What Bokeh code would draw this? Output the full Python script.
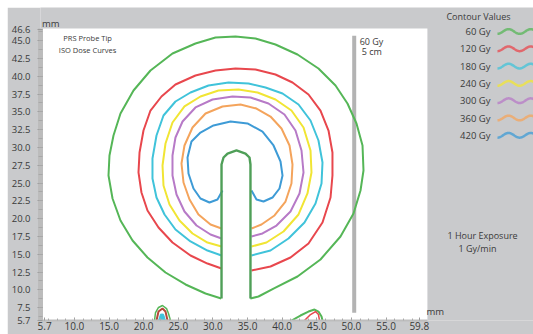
import numpy as np
from bokeh.plotting import figure
from bokeh.models import Range1d, FixedTicker, Label, NumeralTickFormatter
from bokeh.embed import file_html
from bokeh.resources import INLINE

# ---------------- data (mm) ----------------
dose_labels = ["60 Gy", "120 Gy", "180 Gy", "240 Gy", "300 Gy", "360 Gy", "420 Gy"]
dose_colors = ["#55b657", "#e8474d", "#40c3da", "#f1e534", "#b77ac7", "#f4a45c", "#3e9bd6"]

x_ticks = [5.7, 10.0, 15.0, 20.0, 25.0, 30.0, 35.0, 40.0, 45.0, 50.0, 55.0, 59.8]
y_ticks = [5.7, 7.5, 10.0, 12.5, 15.0, 17.5, 20.0, 22.5, 25.0, 27.5, 30.0,
           32.5, 35.0, 37.5, 40.0, 42.5, 45.0, 46.6]

# 60 Gy outer contour (meets the probe at its base)
c60_x = [31.2, 28.93, 26.04, 23.15, 20.55, 18.39, 16.65, 15.50, 14.92, 15.06, 15.64, 16.65,
         18.53, 20.98, 24.16, 27.48, 30.37, 33.26, 36.15, 39.03, 42.21, 45.24, 47.70, 49.43,
         50.73, 51.60, 51.74, 51.31, 50.30, 48.42, 45.53, 42.21, 38.75, 36.58, 35.4]
c60_y = [8.79, 9.49, 10.76, 12.44, 14.55, 16.94, 19.74, 22.83, 26.06, 28.87, 31.68, 34.77,
         38.00, 40.81, 43.20, 44.60, 45.45, 45.59, 45.31, 44.46, 43.06, 41.09, 38.71, 36.18,
         33.37, 30.28, 26.77, 23.96, 20.73, 17.50, 14.27, 11.88, 10.19, 9.07, 8.79]

c120_x = [31.24, 29.21, 26.76, 24.16, 22.14, 20.55, 19.68, 19.25, 19.40, 19.97, 20.98, 22.57,
          24.59, 27.48, 30.37, 33.26, 36.15, 39.03, 41.49, 43.80, 45.53, 46.69, 47.26, 47.26,
          46.98, 45.82, 43.80, 41.20, 38.31, 35.57]
c120_y = [13.00, 13.70, 14.83, 16.65, 18.76, 21.15, 23.68, 26.49, 29.29, 32.38, 35.19, 37.16,
          38.85, 40.11, 40.81, 41.09, 40.95, 40.25, 39.13, 37.44, 35.19, 32.38, 29.29, 26.06,
          22.97, 19.46, 16.51, 14.55, 13.28, 12.72]

c180_x = [31.24, 29.21, 26.76, 24.59, 23.01, 21.85, 21.27, 21.27, 21.85, 22.86, 24.59, 26.76,
          29.36, 32.25, 35.14, 37.59, 40.05, 42.36, 44.09, 45.24, 45.82, 45.68, 44.81, 43.22,
          40.91, 38.31, 35.57]
c180_y = [14.83, 15.53, 16.80, 18.48, 20.59, 22.97, 25.64, 28.45, 31.68, 34.49, 36.46, 37.72,
          38.71, 39.13, 38.99, 38.42, 37.58, 36.04, 33.79, 30.98, 27.89, 24.94, 22.13, 19.46,
          17.22, 15.53, 14.83]

c240_x = [31.24, 29.21, 27.05, 25.17, 23.73, 22.86, 22.72, 23.15, 24.16, 25.89, 28.20, 30.80,
          33.69, 36.44, 39.03, 41.34, 43.08, 44.09, 44.23, 43.65, 42.36, 40.19, 37.73, 35.57]
c240_y = [16.09, 16.65, 17.92, 19.74, 21.99, 24.66, 27.47, 30.56, 33.51, 35.76, 37.16, 38.00,
          38.14, 37.72, 36.74, 35.19, 32.81, 29.58, 26.49, 23.54, 20.59, 18.20, 16.65, 16.09]

c300_x = [31.24, 29.65, 27.63, 25.89, 24.74, 24.16, 24.16, 24.59, 25.61, 27.48, 29.94, 32.83,
          35.42, 38.02, 40.33, 41.92, 42.79, 43.08, 42.50, 41.20, 39.18, 37.16, 35.57]
c300_y = [17.22, 17.78, 19.04, 21.01, 23.40, 26.06, 28.87, 31.40, 33.65, 35.62, 36.74, 37.16,
          37.02, 36.18, 34.63, 32.38, 29.58, 26.49, 23.54, 21.01, 19.04, 17.92, 17.50]

c360_x = [31.24, 29.65, 27.91, 26.62, 25.75, 25.46, 25.89, 27.05, 28.93, 31.38, 33.98, 36.29,
          38.31, 39.90, 41.06, 41.49, 41.34, 40.48, 38.89, 37.01, 35.57]
c360_y = [18.62, 19.18, 20.59, 22.69, 25.08, 27.75, 30.28, 32.81, 34.77, 35.76, 36.04, 35.47,
          34.35, 32.67, 30.28, 27.61, 24.94, 22.41, 20.45, 19.18, 18.62]

c420_x = [31.38, 30.66, 29.50, 28.20, 27.19, 26.47, 26.33, 26.90, 28.20, 30.08, 32.54, 34.99,
          37.16, 38.75, 39.76, 40.05, 39.61, 38.60, 37.30, 36.29, 35.57]
c420_y = [23.96, 22.69, 22.27, 22.83, 24.24, 26.35, 28.59, 30.84, 32.10, 33.09, 33.65, 33.37,
          32.24, 30.28, 28.03, 26.06, 24.24, 22.97, 22.41, 22.69, 23.96]

# probe outline (shaft + rounded tip)
probe_x = [31.24, 31.24, 31.53, 32.11, 33.40, 34.70, 35.28, 35.42, 35.42]
probe_y = [8.79, 27.61, 28.59, 29.15, 29.58, 29.15, 28.59, 27.61, 8.79]

# small dose islands near the bottom edge
blobA60_x = [21.56, 21.71, 22.14, 22.72, 23.30, 23.58, 23.87]
blobA60_y = [5.70, 6.82, 7.53, 7.81, 7.38, 6.68, 5.70]
blobA120_x = [21.85, 22.14, 22.72, 23.15, 23.44]
blobA120_y = [5.70, 6.96, 7.38, 6.96, 5.70]
blobA180_x = [22.14, 22.43, 22.86, 23.15]
blobA180_y = [5.70, 6.60, 6.60, 5.70]
blobB60_x = [41.35, 42.64, 43.80, 44.67, 45.24, 45.68, 45.82]
blobB60_y = [5.70, 6.40, 6.96, 7.24, 6.96, 6.26, 5.70]
blobB120_x = [43.22, 44.09, 44.81, 45.24, 45.39]
blobB120_y = [5.70, 6.54, 6.96, 6.54, 5.70]

marker_x = 50.4          # 5 cm reference line
marker_y = [6.8, 45.7]

contours_x = [c60_x, c120_x, c180_x, c240_x, c300_x, c360_x, c420_x]
contours_y = [c60_y, c120_y, c180_y, c240_y, c300_y, c360_y, c420_y]

# ---------------- styling ----------------
BG = "#c9cacc"
TXT = "#3a3a3a"
FONT = "Open Sans"

x0, x1 = 5.1, 76.29
y0, y1 = 5.7, 49.66
panel_right, panel_top = 60.97, 46.71

p = figure(width=526, height=327, output_backend="svg", toolbar_location=None,
           x_range=Range1d(x0, x1), y_range=Range1d(y0, y1),
           min_border_left=33, min_border_right=0, min_border_top=0, min_border_bottom=14)
p.margin = (7, 0, 0, 7)
p.background_fill_color = BG
p.border_fill_color = BG
p.outline_line_color = None
p.grid.visible = False

# white plotting panel
p.quad(left=x0, right=panel_right, bottom=y0, top=panel_top, fill_color="white", line_color=None)

# 5 cm marker line
p.line([marker_x, marker_x], marker_y, line_color="#b3b3b3", line_width=4)

# contours
for cx, cy, col in zip(contours_x, contours_y, dose_colors):
    p.line(cx, cy, line_color=col, line_width=2)

# islands
p.patch(blobA180_x, blobA180_y, fill_color=dose_colors[2], line_color=dose_colors[2], line_width=1)
p.line(blobA120_x, blobA120_y, line_color="#b5483a", line_width=2)
p.line(blobA60_x, blobA60_y, line_color=dose_colors[0], line_width=1.5)
p.line(blobB60_x, blobB60_y, line_color=dose_colors[0], line_width=2)
p.line(blobB120_x, blobB120_y, line_color=dose_colors[1], line_width=1.5)

# probe outline
p.line(probe_x, probe_y, line_color="#4f9f58", line_width=2.4)

# ---------------- axes ----------------
xa = p.xaxis[0]
xa.ticker = FixedTicker(ticks=x_ticks, minor_ticks=list(np.arange(6.25, 60.0, 1.25)))
xa.formatter = NumeralTickFormatter(format="0.0")
xa.bounds = (x0, panel_right)
xa.axis_line_color = "#bdbdbd"
xa.axis_line_width = 2
xa.major_tick_in = 3
xa.major_tick_out = 0
xa.major_tick_line_color = "#9c9c9c"
xa.minor_tick_in = 2
xa.minor_tick_out = 0
xa.minor_tick_line_color = "#aaaaaa"
xa.major_label_standoff = 1
xa.major_label_text_font = FONT
xa.major_label_text_font_size = "10px"
xa.major_label_text_color = TXT

ya = p.yaxis[0]
ya.ticker = FixedTicker(ticks=y_ticks, minor_ticks=list(np.arange(6.25, 46.5, 1.25)))
ya.formatter = NumeralTickFormatter(format="0.0")
ya.bounds = (y0, panel_top)
ya.axis_line_color = "#bcbcbc"
ya.axis_line_width = 5
ya.major_tick_in = 2
ya.major_tick_out = 3
ya.major_tick_line_color = "#9c9c9c"
ya.minor_tick_in = 2
ya.minor_tick_out = 2
ya.minor_tick_line_color = "#a8a8a8"
ya.major_label_standoff = 7
ya.major_label_text_font = FONT
ya.major_label_text_font_size = "9.5px"
ya.major_label_text_color = TXT


def add_text(x, y, text, size="9px", align="left"):
    p.add_layout(Label(x=x, y=y, text=text, text_font=FONT, text_font_size=size,
                       text_color=TXT, text_align=align, text_baseline="middle"))


# axis unit labels
add_text(5.3, 47.45, "mm", size="9.5px")
add_text(60.84, 6.96, "mm", size="9.5px")

# titles inside the panel
add_text(11.9, 45.31, "PRS Probe Tip", size="7.5px", align="center")
add_text(11.9, 43.69, "ISO Dose Curves", size="7.5px", align="center")
add_text(52.9, 44.88, "60 Gy", size="9px", align="center")
add_text(52.95, 43.48, "5 cm", size="9px", align="center")

# legend
add_text(68.35, 48.40, "Contour Values", size="9px", align="center")
legend_top, legend_step = 46.29, 2.43
wave_x = np.linspace(71.09, x1, 80)
for i, (lab, col) in enumerate(zip(dose_labels, dose_colors)):
    yc = legend_top - i * legend_step
    add_text(70.08, yc, lab, size="9.5px", align="right")
    wave_y = yc - 0.33 * np.cos(2 * np.pi * (wave_x - wave_x[0]) / 3.2)
    p.line(wave_x, wave_y, line_color=col, line_width=2.5, line_alpha=0.75)

# exposure note
add_text(68.93, 17.64, "1 Hour Exposure", size="9px", align="center")
add_text(68.2, 15.81, "1 Gy/min", size="9px", align="center")

open("out.html", "w").write(file_html(p, INLINE))
